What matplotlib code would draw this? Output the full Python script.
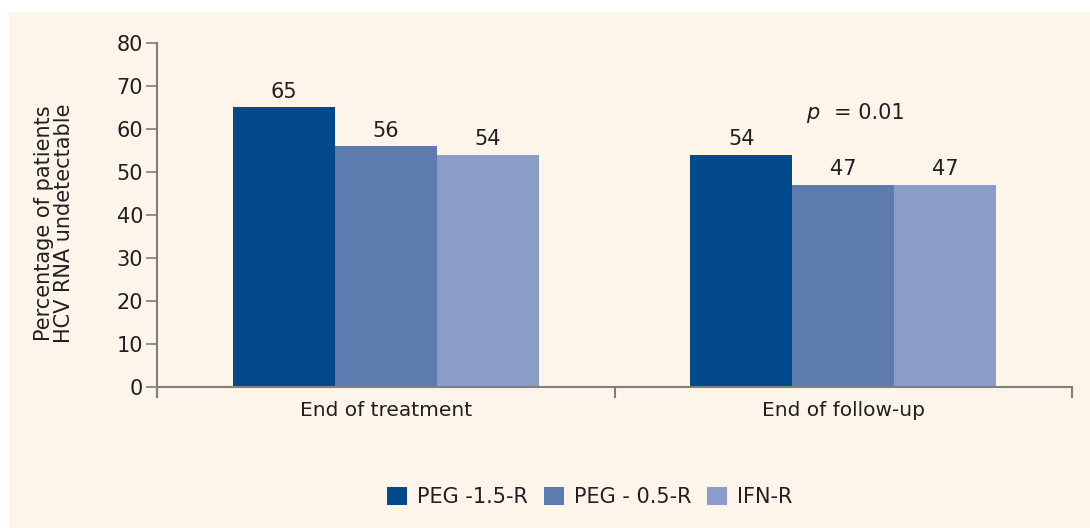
import matplotlib
matplotlib.use("Agg")
import matplotlib.pyplot as plt
from matplotlib.patches import Rectangle
import numpy as np

# Data
categories = ["End of treatment", "End of follow-up"]
series_names = ["PEG -1.5-R", "PEG - 0.5-R", "IFN-R"]
peg15 = [65, 54]
peg05 = [56, 47]
ifn = [54, 47]
yticks = [0, 10, 20, 30, 40, 50, 60, 70, 80]

colors = ["#024a8c", "#5e7bb0", "#8a9dc7"]
bg = "#fdf5e9"
txt = "#231f20"
axis_col = "#7f7f7f"

plt.rcParams["font.family"] = ["DejaVu Sans"]

fig = plt.figure(figsize=(10.9, 5.28), dpi=100)
fig.patch.set_facecolor("white")
fig.patches.append(Rectangle((9 / 1090, 0), 1 - 9 / 1090, 1 - 12 / 528,
                             transform=fig.transFigure, facecolor=bg,
                             edgecolor="none", zorder=-10))

ax = fig.add_axes([157 / 1090, 131 / 528, (1072 - 157) / 1090, (397 - 43) / 528])
ax.set_facecolor("none")

x = np.arange(len(categories))
width = 0.223
offsets = [-width, 0, width]
all_series = [peg15, peg05, ifn]
for vals, off, col, name in zip(all_series, offsets, colors, series_names):
    bars = ax.bar(x + off, vals, width=width, color=col, label=name, zorder=2)
    for b, v in zip(bars, vals):
        ax.annotate(str(v), (b.get_x() + b.get_width() / 2, v),
                    xytext=(0, 4), textcoords="offset points",
                    ha="center", va="bottom", fontsize=15, color=txt)

ax.set_xlim(-0.5, 1.5)
ax.set_ylim(-2.33, 80)

# Spines
for s in ["top", "right"]:
    ax.spines[s].set_visible(False)
ax.spines["left"].set_bounds(-2.33, 80)
ax.spines["bottom"].set_position(("data", 0))
for s in ["left", "bottom"]:
    ax.spines[s].set_color(axis_col)
    ax.spines[s].set_linewidth(1.5)

ax.set_yticks(yticks)
ax.set_yticklabels([str(t) for t in yticks])
ax.tick_params(axis="y", length=8, width=1.2, color=axis_col,
               labelsize=15, labelcolor=txt, pad=2)

# Category labels at centers, boundary ticks below the axis
ax.set_xticks(x)
ax.set_xticklabels(categories)
ax.tick_params(axis="x", which="major", length=0, labelsize=14.5,
               labelcolor=txt, pad=10)
ax.set_xticks([-0.5, 0.5, 1.5], minor=True)
ax.tick_params(axis="x", which="minor", length=8, width=1.5,
               color=axis_col, direction="out")

ax.set_ylabel("Percentage of patients\nHCV RNA undetectable",
              fontsize=15, color=txt, linespacing=1.0)
ax.yaxis.set_label_coords(-0.091, 0.49)

ax.text(0.918, 63.7, "p", fontsize=15, color=txt, va="center", ha="left",
        style="italic")
ax.text(0.979, 63.7, "= 0.01", fontsize=15, color=txt, va="center", ha="left")

leg = fig.legend(loc="center", bbox_to_anchor=(590 / 1090, 1 - 497 / 528),
                 ncol=3, frameon=False, fontsize=15, handlelength=0.95,
                 handleheight=0.95, handletextpad=0.5, columnspacing=0.75)
for t in leg.get_texts():
    t.set_color(txt)

fig.savefig("out.png", dpi=100, facecolor=fig.get_facecolor())
